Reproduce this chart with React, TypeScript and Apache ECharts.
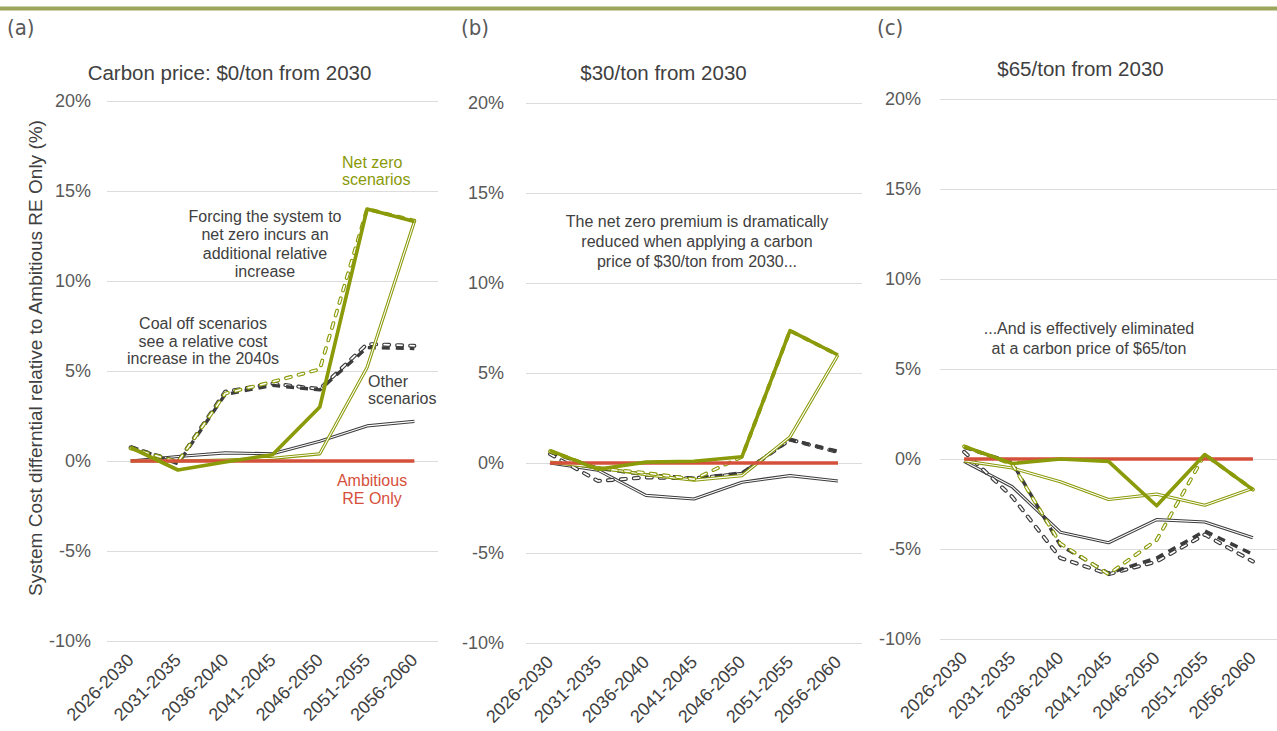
import React, { useEffect, useRef } from "react";
import * as echarts from "echarts";

// ---- data ----
const categories = ["2026-2030", "2031-2035", "2036-2040", "2041-2045", "2046-2050", "2051-2055", "2056-2060"];
const yMin = -10;
const yMax = 20;
const yInterval = 5;

const panelTitles = ["Carbon price: $0/ton from 2030", "$30/ton from 2030", "$65/ton from 2030"];
const panelLetters = ["(a)", "(b)", "(c)"];

// Panel (a): $0/ton
const reOnlyA = [0, 0, 0, 0, 0, 0, 0];
const netZeroThickA = [0.75, -0.5, -0.05, 0.35, 3.0, 14.0, 13.3];
const netZeroThinA = [0.0, 0.0, 0.05, 0.15, 0.4, 5.2, 13.3];
const netZeroDashA = [0.7, -0.05, 3.75, 4.4, 5.1, 14.0, 13.35];
const coalOffThickA = [0.8, -0.15, 3.7, 4.2, 3.95, 6.3, 6.25];
const coalOffHollowA = [0.75, -0.05, 3.85, 4.3, 4.0, 6.5, 6.4];
const otherA = [0.0, 0.25, 0.45, 0.4, 1.1, 1.95, 2.2];

// Panel (b): $30/ton
const reOnlyB = [0, 0, 0, 0, 0, 0, 0];
const netZeroThickB = [0.7, -0.35, 0.05, 0.1, 0.35, 7.35, 6.0];
const netZeroThinB = [0.05, -0.25, -0.65, -0.95, -0.7, 1.45, 6.0];
const netZeroDashB = [0.65, -0.3, -0.55, -0.9, 0.35, 7.35, 6.0];
const coalOffThickB = [0.6, -0.3, -0.65, -0.85, -0.55, 1.3, 0.65];
const coalOffHollowB = [0.5, -1.0, -0.8, -0.85, -0.6, 1.3, 0.6];
const otherB = [0.0, -0.4, -1.8, -2.0, -1.07, -0.7, -1.0];

// Panel (c): $65/ton
const reOnlyC = [0, 0, 0, 0, 0, 0, 0];
const netZeroThickC = [0.7, -0.25, 0.0, -0.13, -2.6, 0.25, -1.7];
const netZeroThinC = [-0.1, -0.5, -1.26, -2.25, -1.95, -2.57, -1.63];
const netZeroDashC = [0.7, -0.3, -4.7, -6.4, -4.5, 0.25, -1.7];
const coalOffThickC = [0.65, -0.2, -4.8, -6.35, -5.5, -4.0, -5.3];
const coalOffHollowC = [0.4, -2.1, -5.5, -6.4, -5.7, -4.2, -5.7];
const otherC = [-0.13, -1.54, -4.07, -4.65, -3.37, -3.5, -4.38];

const panels = [
  { re: reOnlyA, nzThick: netZeroThickA, nzThin: netZeroThinA, nzDash: netZeroDashA, coalThick: coalOffThickA, coalHollow: coalOffHollowA, other: otherA },
  { re: reOnlyB, nzThick: netZeroThickB, nzThin: netZeroThinB, nzDash: netZeroDashB, coalThick: coalOffThickB, coalHollow: coalOffHollowB, other: otherB },
  { re: reOnlyC, nzThick: netZeroThickC, nzThin: netZeroThinC, nzDash: netZeroDashC, coalThick: coalOffThickC, coalHollow: coalOffHollowC, other: otherC },
];

// ---- styling ----
const GREEN = "#8a9a08";
const DARK = "#3c3c3c";
const RED = "#d5503b";
const GRID_LINE = "#dcdcdc";
const TEXT = "#595959";
const FONT = "'Liberation Sans', Arial, Helvetica, sans-serif";
const NARROW = "'Liberation Sans Narrow', 'DejaVu Sans Condensed', sans-serif";

const grids = [
  { left: 107, width: 331, top: 101, height: 540 },
  { left: 526, width: 336, top: 103, height: 540 },
  { left: 940, width: 337, top: 99, height: 540 },
];
const yLabelMargins = [16, 22, 19];

function line(idx: number, data: number[], color: string, width: number, type: any, cap: string = "butt") {
  return {
    type: "line",
    xAxisIndex: idx,
    yAxisIndex: idx,
    data,
    symbol: "none",
    showSymbol: false,
    silent: true,
    lineStyle: { color, width, type, cap, join: "round" },
  };
}

function buildSeries() {
  const out: any[] = [];
  panels.forEach((p, i) => {
    // other scenarios: thin hollow dark
    out.push(line(i, p.other, DARK, 3.2, "solid"));
    out.push(line(i, p.other, "#ffffff", 1.1, "solid"));
    // coal off hollow dashed
    out.push(line(i, p.coalHollow, DARK, 4, [5, 8], "round"));
    out.push(line(i, p.coalHollow, "#ffffff", 1.7, [5, 8], "round"));
    // coal off thick dashed
    out.push(line(i, p.coalThick, DARK, 3.4, [8, 6]));
    // net zero thin hollow
    out.push(line(i, p.nzThin, GREEN, 3.2, "solid"));
    out.push(line(i, p.nzThin, "#ffffff", 1.1, "solid"));
    // net zero dashed hollow
    out.push(line(i, p.nzDash, GREEN, 3.8, [5, 8], "round"));
    out.push(line(i, p.nzDash, "#ffffff", 1.6, [5, 8], "round"));
    // ambitious RE only
    out.push(line(i, p.re, RED, 3.5, "solid"));
    // net zero thick
    out.push(line(i, p.nzThick, GREEN, 3.6, "solid"));
  });
  return out;
}

function txt(x: number, y: number, text: string, opts: any = {}) {
  return {
    type: "text",
    x,
    y,
    silent: true,
    rotation: opts.rotation || 0,
    style: {
      text,
      fill: opts.fill || TEXT,
      font: `${opts.size || 16}px ${opts.family || FONT}`,
      textAlign: opts.align || "center",
      textVerticalAlign: "middle",
      lineHeight: opts.lh || 18.5,
    },
  };
}

export default function App() {
  const ref = useRef<HTMLDivElement>(null);

  useEffect(() => {
    if (!ref.current) return;
    const chart = echarts.init(ref.current, undefined, { renderer: "svg" });

    const option: any = {
      animation: false,
      backgroundColor: "#ffffff",
      grid: grids.map((g) => ({ ...g, containLabel: false })),
      xAxis: grids.map((_, i) => ({
        type: "category",
        gridIndex: i,
        data: categories,
        boundaryGap: true,
        axisLine: { show: false },
        axisTick: { show: false },
        splitLine: { show: false },
        axisLabel: {
          rotate: 45,
          color: "#404040",
          fontSize: 18,
          fontFamily: FONT,
          margin: 16,
          interval: 0,
        },
      })),
      yAxis: grids.map((_, i) => ({
        type: "value",
        gridIndex: i,
        min: yMin,
        max: yMax,
        interval: yInterval,
        axisLine: { show: false },
        axisTick: { show: false },
        splitLine: { show: true, lineStyle: { color: GRID_LINE, width: 1 } },
        axisLabel: {
          color: TEXT,
          fontSize: 18,
          fontFamily: FONT,
          margin: yLabelMargins[i],
          formatter: (v: number) => `${v}%`,
        },
      })),
      series: buildSeries(),
      graphic: [
        { type: "rect", silent: true, shape: { x: 0, y: 6.5, width: 1277, height: 4 }, style: { fill: "#9ba55c" } },
        txt(7, 27, panelLetters[0], { align: "left", size: 22, family: NARROW }),
        txt(461, 27, panelLetters[1], { align: "left", size: 22, family: NARROW }),
        txt(877, 27, panelLetters[2], { align: "left", size: 22, family: NARROW }),
        txt(229.5, 72, panelTitles[0], { size: 20.5, fill: "#404040" }),
        txt(663.5, 72, panelTitles[1], { size: 20.5, fill: "#404040" }),
        txt(1080.5, 68, panelTitles[2], { size: 20.5, fill: "#404040" }),
        txt(35, 358, "System Cost differntial relative to Ambitious RE Only (%)", { size: 19, fill: "#404040", rotation: Math.PI / 2 }),
        txt(342, 171, "Net zero\nscenarios", { align: "left", fill: GREEN, lh: 17 }),
        txt(265, 244, "Forcing the system to\nnet zero incurs an\nadditional relative\nincrease", { fill: "#404040", lh: 18.3 }),
        txt(203, 341, "Coal off scenarios\nsee a relative cost\nincrease in the 2040s", { fill: "#404040", lh: 17.7 }),
        txt(368, 390, "Other\nscenarios", { align: "left", fill: "#404040", lh: 17.5 }),
        txt(372, 489, "Ambitious\nRE Only", { fill: RED, lh: 18 }),
        txt(697, 241, "The net zero premium is dramatically\nreduced when applying a carbon\nprice of $30/ton from 2030...", { fill: "#404040", lh: 20 }),
        txt(1089, 338, "...And is effectively eliminated\nat a carbon price of $65/ton", { fill: "#404040", lh: 20 }),
      ],
    };

    chart.setOption(option);
    return () => chart.dispose();
  }, []);

  return (
    <div
      ref={ref}
      style={{ position: "fixed", left: 0, top: 0, width: 1277, height: 731, background: "#fff" }}
    />
  );
}
